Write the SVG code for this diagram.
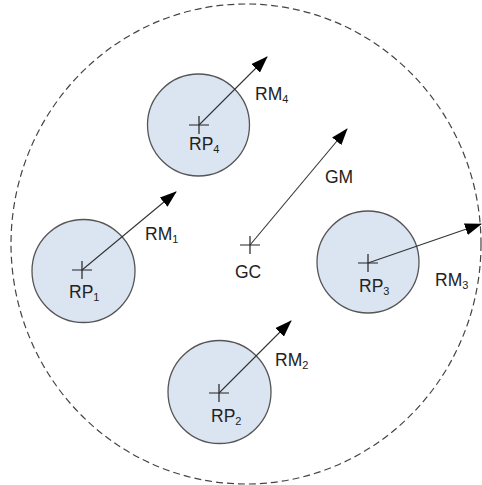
<svg xmlns="http://www.w3.org/2000/svg" width="482" height="485" viewBox="0 0 482 485">
<defs>
<marker id="ah" markerWidth="17" markerHeight="12" refX="16" refY="6" orient="auto" markerUnits="userSpaceOnUse">
<path d="M0,0 L17,6 L0,12 Z" fill="#000"/>
</marker>
<style>
.bg{fill:#fff}
.outer{fill:none;stroke:#444;stroke-width:1.2;stroke-dasharray:7 4}
.rp{fill:#dbe5f2;stroke:#555;stroke-width:1.3}
.cross{stroke:#222;stroke-width:1.2;fill:none}
.arrow{stroke:#333;stroke-width:1.1;fill:none;marker-end:url(#ah)}
text{font-family:"Liberation Sans",Arial,sans-serif;font-size:17.5px;fill:#222}
.sub{font-size:11px}
</style>
</defs>
<rect class="bg" x="0" y="0" width="482" height="485"/>
<g id="global-region"><ellipse class="outer" cx="246" cy="244" rx="235" ry="240"/></g>
<g id="rp4"><circle class="rp" cx="198.5" cy="125" r="51"/><path class="cross" d="M189,125 H209 M199,116 V134"/><text x="189" y="150">RP<tspan class="sub" dy="3">4</tspan></text></g>
<g id="rp1"><circle class="rp" cx="83.5" cy="271" r="51.5"/><path class="cross" d="M72,270 H92 M82,261 V279"/><text x="69" y="298">RP<tspan class="sub" dy="3">1</tspan></text></g>
<g id="gc"><path class="cross" d="M240,245 H260 M250,236 V254"/><text x="235" y="278">GC</text></g>
<g id="rp3"><circle class="rp" cx="368" cy="262" r="51"/><path class="cross" d="M358,263 H378 M368,254 V272"/><text x="359" y="292">RP<tspan class="sub" dy="3">3</tspan></text></g>
<g id="rp2"><circle class="rp" cx="219.5" cy="392" r="51.5"/><path class="cross" d="M209,393 H229 M219,384 V402"/><text x="211" y="422">RP<tspan class="sub" dy="3">2</tspan></text></g>
<g id="connectors">
<line class="arrow" x1="199" y1="125" x2="267" y2="57"/>
<line class="arrow" x1="82" y1="270" x2="176" y2="192"/>
<line class="arrow" x1="250" y1="245" x2="347" y2="129"/>
<line class="arrow" x1="368" y1="263" x2="481" y2="224"/>
<line class="arrow" x1="219" y1="393" x2="291" y2="321"/>
</g>
<g id="labels">
<text x="255" y="100">RM<tspan class="sub" dy="3">4</tspan></text>
<text x="145" y="240">RM<tspan class="sub" dy="3">1</tspan></text>
<text x="325" y="183">GM</text>
<text x="435" y="286">RM<tspan class="sub" dy="3">3</tspan></text>
<text x="275" y="366">RM<tspan class="sub" dy="3">2</tspan></text>
</g>
</svg>
